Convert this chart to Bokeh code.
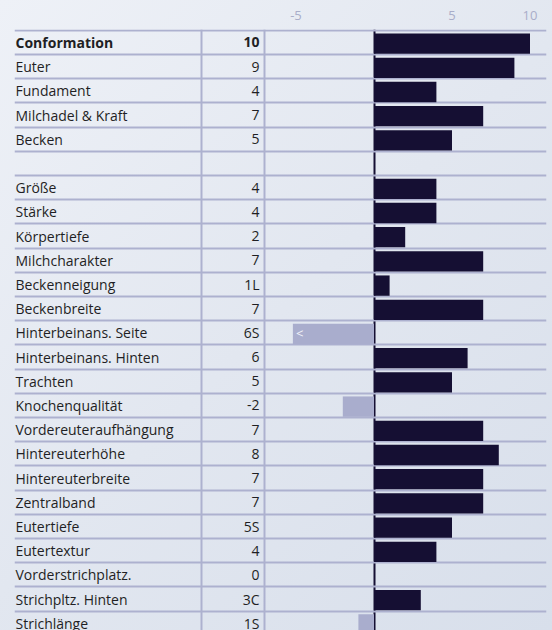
from bokeh.plotting import figure
from bokeh.models import Range1d, FixedTicker, ColumnDataSource
from bokeh.core.properties import value
from bokeh.embed import file_html
from bokeh.resources import INLINE

# ---------------- data ----------------
LABELS = ["Conformation", "Euter", "Fundament", "Milchadel & Kraft", "Becken", "",
          "Größe", "Stärke", "Körpertiefe", "Milchcharakter", "Beckenneigung", "Beckenbreite",
          "Hinterbeinans. Seite", "Hinterbeinans. Hinten", "Trachten", "Knochenqualität",
          "Vordereuteraufhängung", "Hintereuterhöhe", "Hintereuterbreite", "Zentralband",
          "Eutertiefe", "Eutertextur", "Vorderstrichplatz.", "Strichpltz. Hinten", "Strichlänge"]
VALUE_TEXT = ["10", "9", "4", "7", "5", "",
              "4", "4", "2", "7", "1L", "7",
              "6S", "6", "5", "-2",
              "7", "8", "7", "7",
              "5S", "4", "0", "3C", "1S"]
BAR_VALUES = [10, 9, 4, 7, 5, None,
              4, 4, 2, 7, 1, 7,
              -6, 6, 5, -2,
              7, 8, 7, 7,
              5, 4, 0, 3, -1]
BOLD_ROWS = ["Conformation"]
AXIS_TICKS = [-5, 5, 10]
AXIS_TICK_LABELS = ["-5", "5", "10"]
CLIP_MIN = -5.2

# ---------------- layout ----------------
W, H = 552, 630
PAGE = 0
BORDER_LEFT, BORDER_TOP = 14, 29
ZERO_IMG = 373.5
PPU = 15.6
ROW_PX = 24.2
ROW0_TOP_IMG = 29.8
FRAME_TOP_IMG = PAGE + BORDER_TOP
FRAME_RIGHT_IMG = 546


def px_x(img_x):
    return (img_x - ZERO_IMG) / PPU


x_start = px_x(PAGE + BORDER_LEFT)
x_end = px_x(FRAME_RIGHT_IMG)
y_top = -0.5 - (ROW0_TOP_IMG - FRAME_TOP_IMG) / ROW_PX
y_bottom = y_top + (H - BORDER_TOP) / ROW_PX

BG = "#e3e8f0"
LINE = "#adb1cf"
POS = "#150f33"
NEG = "#a9adcd"
TXT = "#1f1f24"
FONT = "Open Sans"

p = figure(width=W, height=H, output_backend="svg", toolbar_location=None,
           x_range=Range1d(x_start, x_end), y_range=Range1d(y_bottom, y_top),
           x_axis_location="above", y_axis_location=None,
           min_border_left=BORDER_LEFT, min_border_right=W - FRAME_RIGHT_IMG,
           min_border_top=BORDER_TOP, min_border_bottom=0,
           background_fill_color=None, border_fill_color=None,
           outline_line_color=None)
p.xgrid.visible = False
p.ygrid.visible = False

ax = p.xaxis[0]
ax.ticker = FixedTicker(ticks=AXIS_TICKS)
ax.major_label_overrides = dict(zip(AXIS_TICKS, AXIS_TICK_LABELS))
ax.axis_line_color = None
ax.major_tick_line_color = None
ax.minor_tick_line_color = None
ax.major_label_text_color = "#a9adc9"
ax.major_label_text_font = FONT
ax.major_label_text_font_size = "13px"
ax.major_label_standoff = 4

rows = list(range(len(LABELS)))

# zero line, then row lines on top of it, then column separators
p.vspan(x=[0], line_color=POS, line_width=2)
p.hspan(y=[r - 0.5 for r in rows] + [len(rows) - 0.5], line_color=LINE, line_width=2)
p.vspan(x=[px_x(201), px_x(264)], line_color=LINE, line_width=2)

# bars
bar_rows, lefts, rights, colors = [], [], [], []
clip_rows = []
for r, v in zip(rows, BAR_VALUES):
    if v is None:
        continue
    bar_rows.append(r + 0.05)
    lefts.append(max(min(v, 0), CLIP_MIN))
    rights.append(max(v, 0))
    colors.append(POS if v >= 0 else NEG)
    if v < CLIP_MIN:
        clip_rows.append(r)

bars = ColumnDataSource(dict(y=bar_rows, left=lefts, right=rights, color=colors))
p.hbar(y="y", left="left", right="right", height=0.84, fill_color="color",
       line_color=None, source=bars)

if clip_rows:
    p.text(x=[CLIP_MIN + 0.2] * len(clip_rows), y=clip_rows, text=["<"] * len(clip_rows),
           text_color="#f2f3fa", text_font=value(FONT), text_font_size="13px",
           text_align="left", text_baseline="middle")

styles = ["bold" if lab in BOLD_ROWS else "normal" for lab in LABELS]
tsrc = ColumnDataSource(dict(y=rows, label=LABELS, val=VALUE_TEXT, style=styles))
p.text(x=px_x(15), y="y", text="label", source=tsrc, text_font_style="style",
       text_color=TXT, text_font=value(FONT), text_font_size="14px",
       text_align="left", text_baseline="middle", y_offset=0)
p.text(x=px_x(259), y="y", text="val", source=tsrc, text_font_style="style",
       text_color=TXT, text_font=value(FONT), text_font_size="14px",
       text_align="right", text_baseline="middle", y_offset=0)

html = None
try:
    from jinja2 import Template
    tpl = Template(
        "{% extends base %}{% block preamble %}<style>html, body { margin: 0; padding: 0;"
        " overflow: hidden;"
        " background: linear-gradient(135deg, #eef1f7 0%, #e2e7f0 50%, #d8dfeb 100%) fixed;"
        " background-color: " + BG + "; min-height: 100%; }</style>{% endblock %}")
    html = file_html(p, INLINE, template=tpl)
except Exception:
    p.background_fill_color = BG
    p.border_fill_color = BG
    html = file_html(p, INLINE)

open("out.html", "w").write(html)
